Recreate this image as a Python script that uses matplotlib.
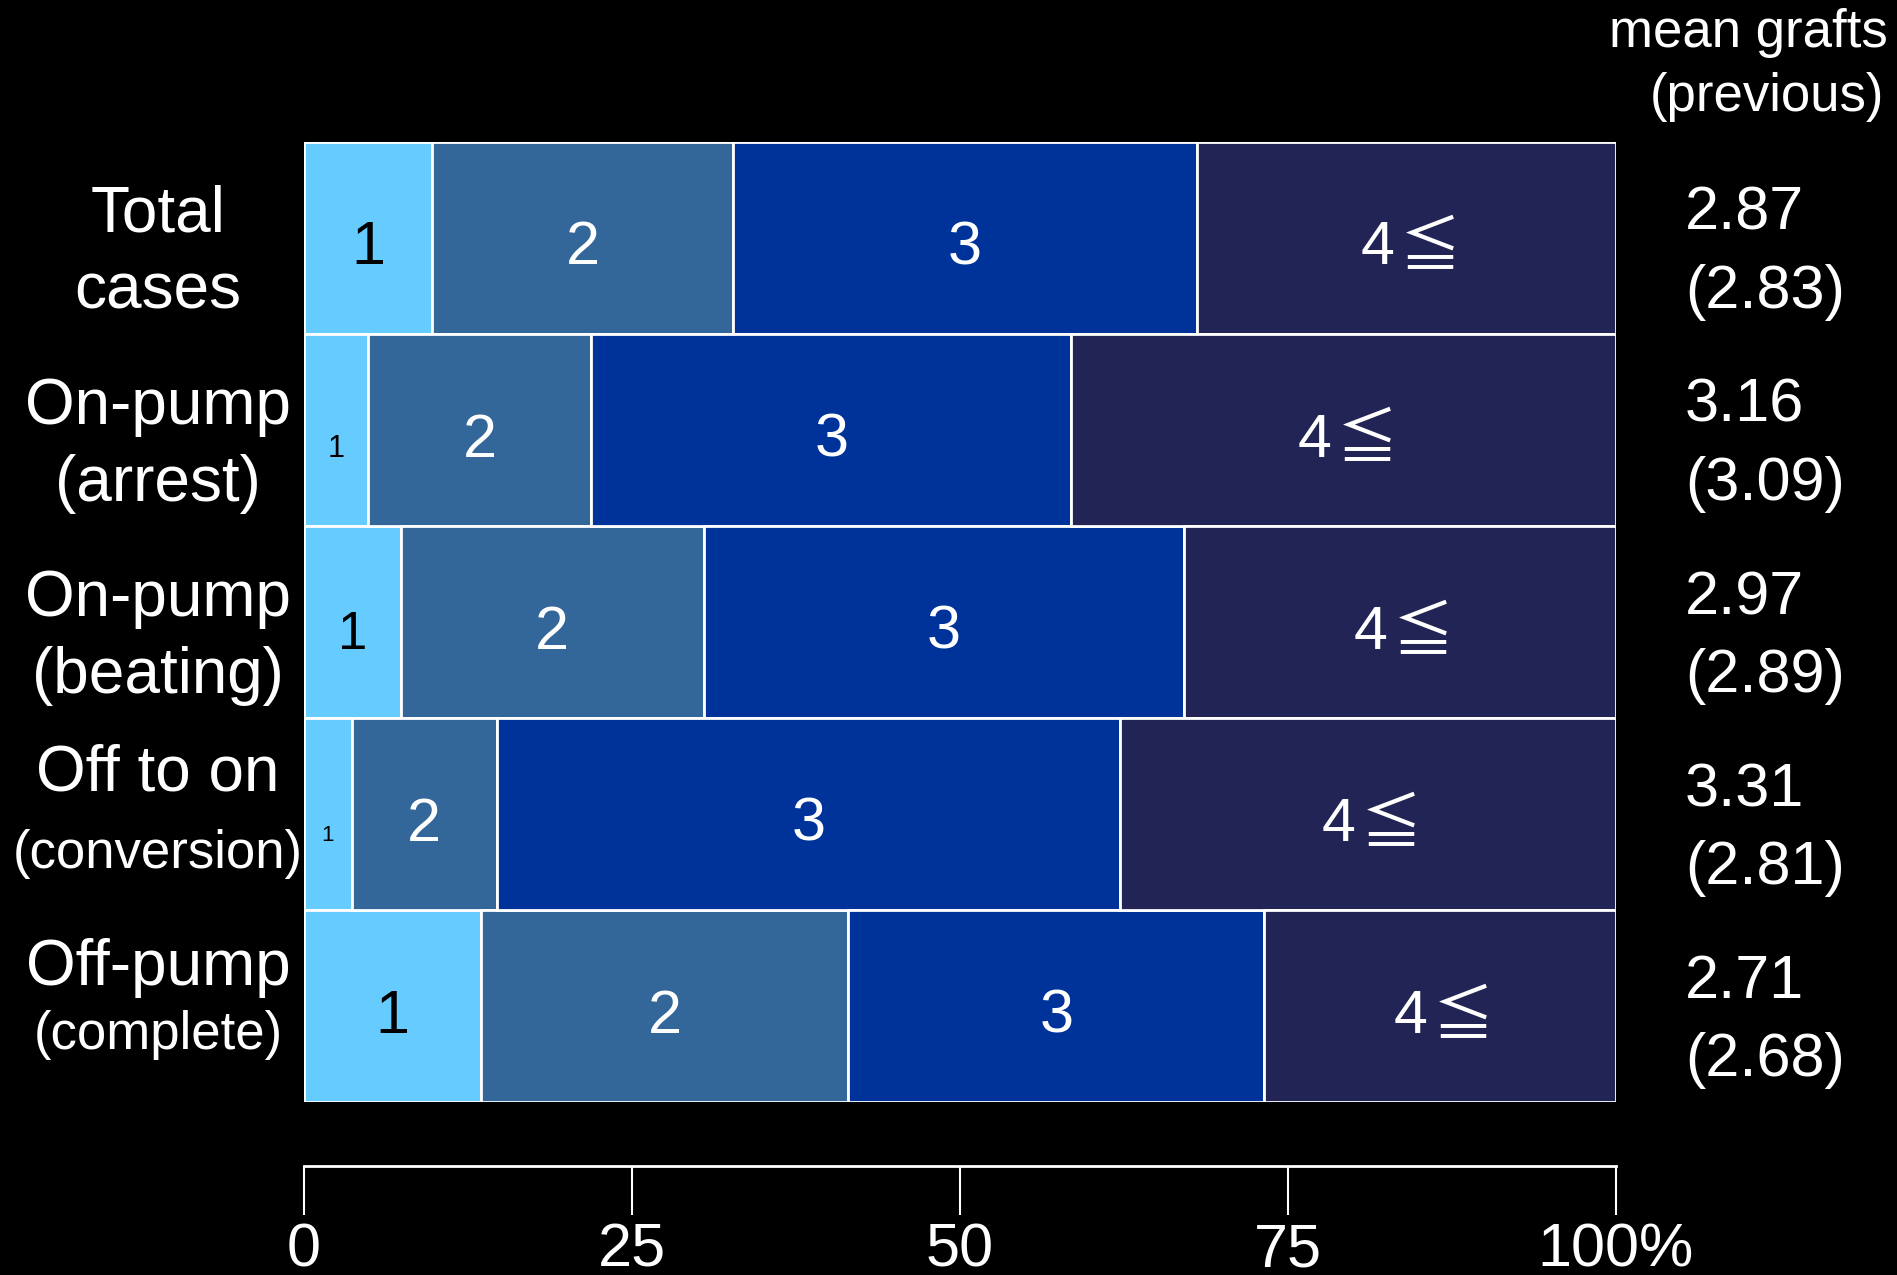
import numpy as np
import matplotlib
matplotlib.use("Agg")
import matplotlib.pyplot as plt
from matplotlib.transforms import blended_transform_factory

# shares (%) of cases by number of grafts
categories = [("Total", "cases"), ("On-pump", "(arrest)"), ("On-pump", "(beating)"),
              ("Off to on", "(conversion)"), ("Off-pump", "(complete)")]
one_graft = [9.8, 4.9, 7.4, 3.7, 13.5]
two_grafts = [22.9, 17.0, 23.1, 11.0, 28.0]
three_grafts = [35.4, 36.6, 36.6, 47.5, 31.7]
four_plus = [31.9, 41.5, 32.9, 37.8, 26.8]
mean_now = ["2.87", "3.16", "2.97", "3.31", "2.71"]
mean_prev = ["(2.83)", "(3.09)", "(2.89)", "(2.81)", "(2.68)"]
seg_labels = ["1", "2", "3", "4"]
tick_vals = [0, 25, 50, 75, 100]
tick_labels = ["0", "25", "50", "75", "100%"]

colors = ["#66CCFF", "#336699", "#003399", "#212454"]
text_colors = ["black", "white", "white", "white"]
# the tiny "1" labels in the narrow cells
one_sizes = [44, 22, 38, 16, 44]
# baseline offsets of the two label lines (in rows)
line1_dy = [-0.03, -0.03, -0.03, -0.12, -0.11]
line2_dy = [0.37, 0.37, 0.37, 0.28, 0.225]

FONT = ["Liberation Sans", "Noto Sans CJK JP", "DejaVu Sans"]
plt.rcParams["font.family"] = FONT

W, H = 1897, 1275
fig = plt.figure(figsize=(W / 100, H / 100), dpi=100, facecolor="black")
ax = fig.add_axes([303.7 / W, 1 - 1102 / H, (1616 - 303.7) / W, (1102 - 141.5) / H])
ax.set_facecolor("black")

series = [one_graft, two_grafts, three_grafts, four_plus]
y = np.arange(len(categories))
left = np.zeros(len(categories))
for k, vals in enumerate(series):
    vals = np.array(vals)
    ax.barh(y, vals, left=left, height=1.0, color=colors[k],
            edgecolor="white", linewidth=2)
    for i in range(len(categories)):
        fs = one_sizes[i] if k == 0 else 44
        cx = left[i] + vals[i] / 2
        if k == 3:
            # "4" followed by a full-width "≦"
            ax.text(cx - 0.95, y[i] + 0.14, seg_labels[k], ha="right",
                    va="baseline", fontsize=fs, color=text_colors[k])
            ax.text(cx - 0.55, y[i] + 0.15, "\u2266", ha="left",
                    va="baseline", fontsize=fs, color=text_colors[k],
                    family=["Noto Sans CJK JP", "DejaVu Sans"])
        else:
            ax.text(cx, y[i] + 0.14, seg_labels[k],
                    ha="center", va="baseline", fontsize=fs, color=text_colors[k])
    left += vals

ax.set_xlim(0, 100)
ax.set_ylim(len(categories) - 0.5, -0.5)
ax.axis("off")

# row labels on the left, mean grafts on the right
tr_left = blended_transform_factory(fig.transFigure, ax.transData)
for i, (l1, l2) in enumerate(categories):
    fs2 = 38 if l2 in ("(conversion)", "(complete)") else 46
    ax.text(158 / W, y[i] + line1_dy[i], l1, transform=tr_left, ha="center",
            va="baseline", fontsize=46, color="white", clip_on=False)
    ax.text(158 / W, y[i] + line2_dy[i], l2, transform=tr_left, ha="center",
            va="baseline", fontsize=fs2, color="white", clip_on=False)
    ax.text(1685 / W, y[i] - 0.04, mean_now[i], transform=tr_left, ha="left",
            va="baseline", fontsize=44, color="white", clip_on=False)
    ax.text(1685 / W, y[i] + 0.365, mean_prev[i], transform=tr_left, ha="left",
            va="baseline", fontsize=44, color="white", clip_on=False)

fig.text(1888 / W, 1 - 33 / H, "mean grafts", ha="right", va="center",
         fontsize=38, color="white")
fig.text(1884 / W, 1 - 97 / H, "(previous)", ha="right", va="center",
         fontsize=38, color="white")

# separate percentage scale under the bars
ax2 = fig.add_axes([303.7 / W, 1 - 1166 / H, (1616 - 303.7) / W, 0.0001])
ax2.set_facecolor("none")
ax2.set_xlim(0, 100)
for side in ("top", "left", "right"):
    ax2.spines[side].set_visible(False)
ax2.spines["bottom"].set_color("white")
ax2.spines["bottom"].set_linewidth(2)
ax2.set_yticks([])
ax2.set_xticks(tick_vals)
ax2.set_xticklabels(tick_labels)
ax2.tick_params(axis="x", direction="out", length=35, width=1.5, colors="white",
                labelsize=44, pad=6)

fig.savefig("out.png", dpi=100, facecolor="black")
